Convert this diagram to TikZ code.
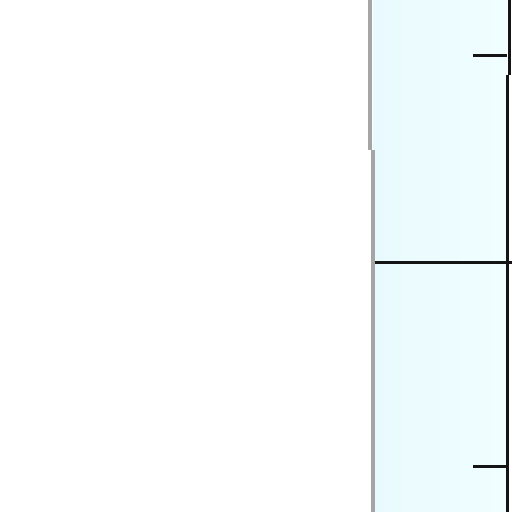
\documentclass[tikz,border=0pt]{standalone}
\definecolor{panelfill}{RGB}{240,254,255}
\definecolor{panelfillL}{RGB}{233,250,254}
\definecolor{edgegray}{RGB}{165,165,165}
\definecolor{darkline}{RGB}{20,20,20}
\begin{document}
\begin{tikzpicture}[x=1pt,y=-1pt,
  edge/.style={draw=edgegray,line width=4pt},
  rule/.style={draw=darkline,line width=3pt}]
\useasboundingbox (0,0) rectangle (512,512);
\fill[white] (0,0) rectangle (512,512);
\shade[left color=panelfillL,right color=panelfill] (373,0) rectangle (507,512);
\draw[edge] (370,0) -- (370,150);
\draw[edge] (372.5,150) -- (372.5,512);
\draw[rule] (509,0) -- (509,75);
\draw[rule] (507,75) -- (507,512);
\coordinate (hl) at (375,262);
\coordinate (hr) at (512,262);
\draw[rule] (hl) -- (hr);
\coordinate (t1a) at (473,55);
\coordinate (t1b) at (507,55);
\draw[rule] (t1a) -- (t1b);
\coordinate (t2a) at (473,466);
\coordinate (t2b) at (507,466);
\draw[rule] (t2a) -- (t2b);
\end{tikzpicture}
\end{document}
